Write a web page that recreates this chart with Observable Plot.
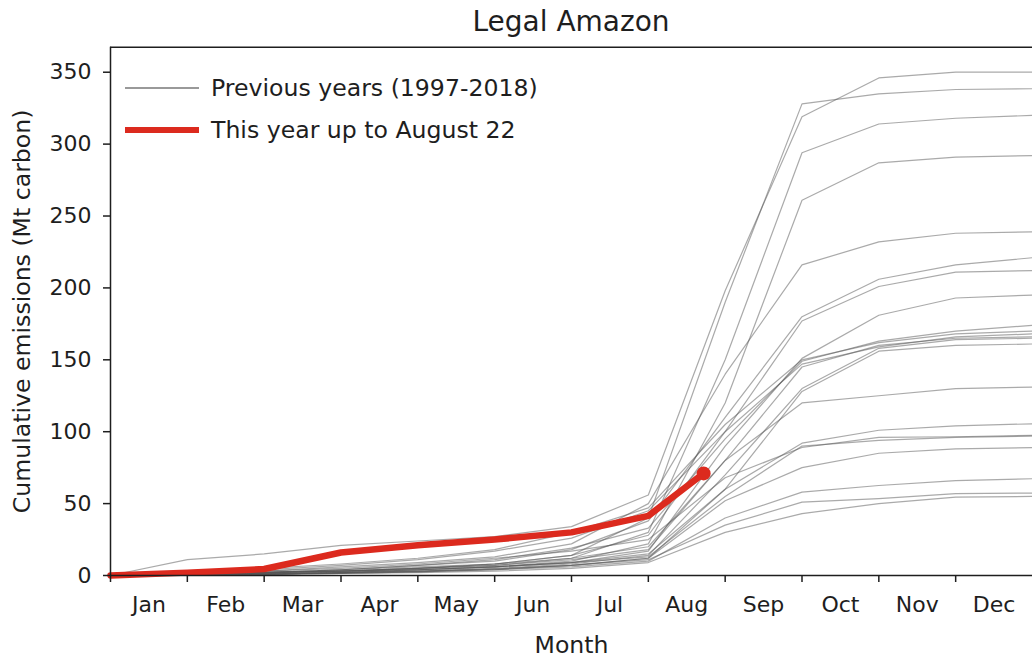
<!DOCTYPE html>
<html>
<head>
<meta charset="utf-8">
<script src="https://cdn.jsdelivr.net/npm/d3@7"></script>
<script src="https://cdn.jsdelivr.net/npm/@observablehq/plot@0.6"></script>
<style>
  html, body { margin: 0; padding: 0; background: #fff; }
  #wrap { position: relative; width: 1032px; height: 657px; overflow: hidden; font-family: "DejaVu Sans", sans-serif; color: #1e1e1e; }
  #title { height: 40px; line-height: 40px; font-size: 28px; text-align: center; padding-left: 110px; box-sizing: border-box; width: 1032px; }
  #title span { position: relative; top: 2px; }
  .lg { position: absolute; left: 125px; height: 30px; display: flex; align-items: center; font-size: 23.6px; white-space: nowrap; }
  .sw { display: inline-block; width: 74px; margin-right: 12px; }
  #chart svg g[aria-label="y-axis label"] text, #chart svg g[aria-label="x-axis label"] text { font-size: 23.6px; }
</style>
</head>
<body>
<div id="wrap">
  <div id="title"><span>Legal Amazon</span></div>
  <div id="chart"></div>
  <div class="lg" style="top:73px"><span class="sw" style="height:1.3px;background:#999"></span><span>Previous years (1997-2018)</span></div>
  <div class="lg" style="top:115px"><span class="sw" style="height:6px;background:#dc2a1e"></span><span>This year up to August 22</span></div>
</div>
<script>
const months = ["Jan","Feb","Mar","Apr","May","Jun","Jul","Aug","Sep","Oct","Nov","Dec"];
const monthCenters = [0.5,1.5,2.5,3.5,4.5,5.5,6.5,7.5,8.5,9.5,10.5,11.5];
const monthBounds = [0,1,2,3,4,5,6,7,8,9,10,11,12];
const yTicks = [0,50,100,150,200,250,300,350];
const yMax = 367.4;

const years = ["1997","1998","1999","2000","2001","2002","2003","2004","2005","2006","2007",
               "2008","2009","2010","2011","2012","2013","2014","2015","2016","2017","2018"];
// cumulative emissions at month boundaries (start of Jan ... end of Dec)
const previousYears = [
  [0, 11, 15, 21, 24, 27, 34, 56, 198, 319, 346, 350, 350],
  [0, 1, 2, 4, 6, 8, 14, 40, 190, 328, 335, 338, 338.5],
  [0, 1, 2, 3, 5, 7, 12, 30, 150, 294, 314, 318, 320],
  [0, 0.5, 1, 2, 4, 6, 10, 22, 120, 261, 287, 291, 292],
  [0, 1, 3, 6, 9, 13, 22, 50, 140, 216, 232, 238, 239],
  [0, 1, 2, 4, 7, 10, 18, 38, 110, 180, 206, 216, 221],
  [0, 1, 2, 3, 5, 8, 14, 28, 100, 177, 201, 211, 212],
  [0, 0.5, 1, 2, 4, 6, 9, 17, 90, 151, 181, 193, 195],
  [0, 1, 2, 4, 7, 11, 19, 33, 95, 149, 163, 170, 174],
  [0, 2, 4, 7, 11, 17, 26, 45, 100, 147, 159, 166, 168],
  [0, 0.5, 1, 2, 3, 5, 8, 14, 70, 130, 158, 164, 165],
  [0, 0.5, 1, 1.5, 2.5, 4, 7, 12, 60, 128, 156, 160, 161],
  [0, 1, 2, 3, 5, 8, 12, 20, 80, 120, 125, 130, 131],
  [0, 1, 2, 3, 4, 6, 9, 15, 60, 92, 101, 104, 105.5],
  [0, 1, 3, 5, 8, 12, 17, 25, 68, 89, 96, 96.5, 97.4],
  [0, 0.5, 1, 2, 3, 4.5, 7, 12, 52, 75, 85, 88, 89],
  [0, 0.5, 1, 1.5, 2.5, 4, 6, 10, 40, 58, 62.6, 66, 67.3],
  [0, 0.5, 1, 2, 3, 4.5, 7, 11, 35, 51, 53.5, 57, 57.3],
  [0, 0.5, 1, 1.5, 2, 3, 5, 9, 30, 43, 50, 54.5, 55],
  [0, 2, 5, 8, 12, 18, 30, 47, 105, 150, 162, 168, 170],
  [0, 1, 2, 3, 5, 7, 11, 18, 80, 145, 160, 165, 166],
  [0, 1, 2, 3, 4, 6, 9, 13, 55, 90, 94, 96, 97]
];
const thisYearMonth = [0, 1, 2, 3, 4, 5, 6, 7, 7.72];
const thisYearValues = [0, 2, 4.5, 16, 21, 25, 30, 41.5, 71];

const prevRows = years.flatMap((yr, i) => monthBounds.map((m, j) => ({year: yr, m, v: previousYears[i][j]})));
const thisRows = thisYearMonth.map((m, i) => ({m, v: thisYearValues[i]}));
const lastPoint = thisRows.slice(-1);

const red = "#dc2a1e";
const ink = "#1e1e1e";

const chart = Plot.plot({
  width: 1032,
  height: 617,
  marginLeft: 110,
  marginRight: 0,
  marginTop: 6.7,
  marginBottom: 82,
  style: {fontFamily: "DejaVu Sans, sans-serif", fontSize: "22px", color: ink, background: "#fff", overflow: "visible"},
  x: {domain: [0, 12]},
  y: {domain: [0, yMax]},
  marks: [
    Plot.line(prevRows, {x: "m", y: "v", z: "year", stroke: "#555", strokeOpacity: 0.5, strokeWidth: 1.2}),
    Plot.line(thisRows, {x: "m", y: "v", stroke: red, strokeWidth: 6.5, strokeLinejoin: "round"}),
    Plot.dot(lastPoint, {x: "m", y: "v", r: 7, fill: red}),
    Plot.ruleX([0], {stroke: ink, strokeWidth: 1.5}),
    Plot.ruleY([0], {stroke: ink, strokeWidth: 1.5}),
    Plot.ruleY([yMax], {stroke: ink, strokeWidth: 1.5}),
    Plot.axisY({ticks: yTicks, tickSize: 7, tickPadding: 12, strokeWidth: 1.5, fontSize: 22,
      label: "Cumulative emissions (Mt carbon)", labelAnchor: "center", labelArrow: "none", labelOffset: 97}),
    Plot.axisX({ticks: monthBounds.slice(0, 12), tickSize: 7, strokeWidth: 1.5, tickFormat: () => "", label: null}),
    Plot.axisX({ticks: monthCenters, tickSize: 0, tickPadding: 21, fontSize: 22,
      tickFormat: (d, i) => months[i], label: "Month", labelAnchor: "center", labelArrow: "none", labelOffset: 77})
  ]
});
document.getElementById("chart").appendChild(chart);
</script>
</body>
</html>
